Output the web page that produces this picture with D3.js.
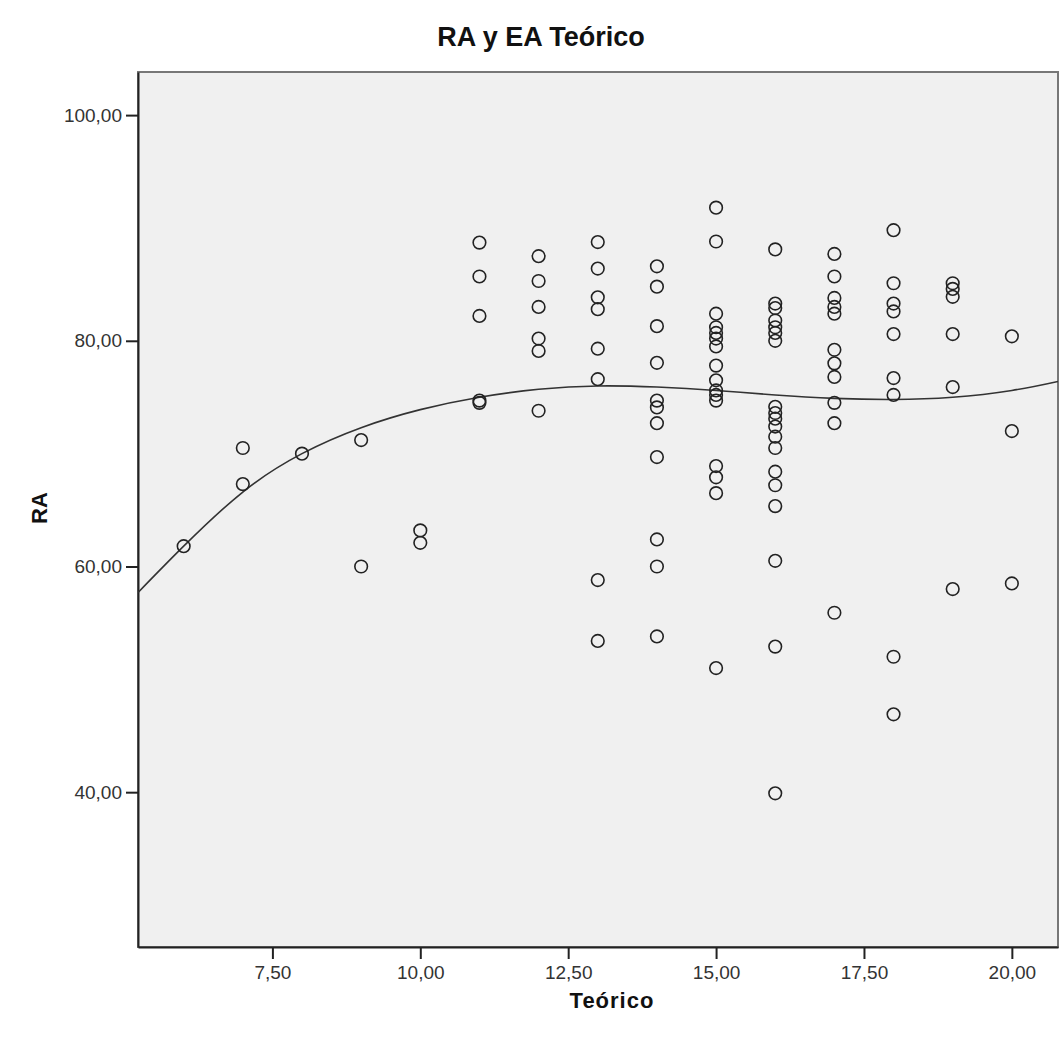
<!DOCTYPE html>
<html>
<head>
<meta charset="utf-8">
<script src="https://cdn.jsdelivr.net/npm/d3@7"></script>
<style>
  body { margin: 0; background: #fff; }
  text { font-family: Arial, "Liberation Sans", sans-serif; }
</style>
</head>
<body>
<div class="chart"></div>
<script>
// points: Teórico (x) and RA (y)
const teorico = [
    6,
    7, 7,
    8,
    9, 9,
    10, 10,
    11, 11, 11, 11, 11,
    12, 12, 12, 12, 12, 12,
    13, 13, 13, 13, 13, 13, 13, 13,
    14, 14, 14, 14, 14, 14, 14, 14, 14, 14, 14,
    15, 15, 15, 15, 15, 15, 15, 15, 15, 15, 15, 15, 15, 15, 15, 15,
    16, 16, 16, 16, 16, 16, 16, 16, 16, 16, 16, 16, 16, 16, 16, 16, 16, 16, 16,
    17, 17, 17, 17, 17, 17, 17, 17, 17, 17, 17,
    18, 18, 18, 18, 18, 18, 18, 18, 18,
    19, 19, 19, 19, 19, 19,
    20, 20, 20
]
const ra = [
    61.8,
    70.5, 67.3,
    70.0,
    71.2, 60.0,
    63.2, 62.1,
    88.7, 85.7, 82.2, 74.7, 74.5,
    87.5, 85.3, 83.0, 80.2, 79.1, 73.8,
    88.75, 86.4, 83.85, 82.8, 79.3, 76.6, 58.8, 53.4,
    86.6, 84.8, 81.3, 78.05, 74.7, 74.1, 72.7, 69.7, 62.4, 60.0, 53.8,
    91.8, 88.8, 82.4, 81.2, 80.7, 80.2, 79.5, 77.8, 76.5, 75.6, 75.2, 74.7, 68.9, 67.9, 66.5, 51.0,
    88.1, 83.3, 82.9, 81.8, 81.2, 80.7, 80.0, 74.15, 73.6, 73.1, 72.4, 71.5, 70.5, 68.4, 67.2, 65.35, 60.5, 52.9, 39.9,
    87.7, 85.7, 83.8, 83.0, 82.4, 79.2, 78.0, 76.8, 74.5, 72.7, 55.9,
    89.8, 85.1, 83.3, 82.6, 80.6, 76.7, 75.2, 52.0, 46.9,
    85.1, 84.6, 83.9, 80.6, 75.9, 58.0,
    80.4, 72.0, 58.5
]

// cubic fit line
const fitX = [5.23, 6, 7, 8, 9, 10, 11, 12, 13, 14, 15, 16, 17, 18, 19, 20, 20.78]
const fitY = [57.7, 61.8, 66.6, 70.0, 72.3, 73.9, 75.0, 75.7, 76.0, 75.9, 75.6, 75.2, 74.9, 74.8, 75.0, 75.6, 76.4]

const xTicks = [7.5, 10, 12.5, 15, 17.5, 20]
const yTicks = [40, 60, 80, 100]

const locale = d3.formatLocale({ decimal: ',', thousands: '.', grouping: [3], currency: ['', ''] })
const fmt = locale.format('.2f')

const margin = { top: 72, right: 3, bottom: 99, left: 138 }
const width = 1061 - margin.left - margin.right
const height = 1046 - margin.top - margin.bottom

const points = teorico.map((d, i) => ({ x: d, y: ra[i] }))
const fit = fitX.map((d, i) => ({ x: d, y: fitY[i] }))

// Scales.
const xScale = d3.scaleLinear()
    .domain([5.228, 20.78])
    .range([0, width])

const yScale = d3.scaleLinear()
    .domain([26.28, 103.82])
    .range([height, 0])

const root = d3.select('.chart')
  .append('svg')
  .attr('width', width + margin.left + margin.right)
  .attr('height', height + margin.top + margin.bottom)

root.append('text')
    .attr('x', 541)
    .attr('y', 46)
    .attr('text-anchor', 'middle')
    .style('font-size', '27px')
    .style('font-weight', 'bold')
    .style('fill', '#111')
    .text('RA y EA Teórico')

const svg = root.append('g')
    .attr('transform', `translate(${margin.left}, ${margin.top})`)

svg.append('defs').append('clipPath')
    .attr('id', 'plot-clip')
  .append('rect')
    .attr('width', width)
    .attr('height', height)

// Plot background.
svg.append('rect')
    .attr('width', width)
    .attr('height', height)
    .style('fill', '#f0f0f0')
    .style('stroke', '#777')
    .style('stroke-width', 2)

// Axes.
const xAxis = d3.axisBottom(xScale)
    .tickValues(xTicks)
    .tickSizeInner(12)
    .tickSizeOuter(0)
    .tickPadding(7)
    .tickFormat(fmt)

const yAxis = d3.axisLeft(yScale)
    .tickValues(yTicks)
    .tickSizeInner(12)
    .tickSizeOuter(0)
    .tickPadding(4)
    .tickFormat(fmt)

const gx = svg.append('g')
    .attr('transform', `translate(0, ${height})`)
    .call(xAxis)

const gy = svg.append('g')
    .call(yAxis)

for (const g of [gx, gy]) {
    g.select('.domain').style('stroke', '#222').style('stroke-width', 2)
    g.selectAll('.tick line').style('stroke', '#222').style('stroke-width', 2)
    g.selectAll('.tick text')
        .style('font-size', '19px')
        .style('fill', '#333')
        .style('font-family', 'Arial, "Liberation Sans", sans-serif')
}

// Fit line.
const line = d3.line()
    .x(d => xScale(d.x))
    .y(d => yScale(d.y))
    .curve(d3.curveNatural)

svg.append('path')
    .datum(fit)
    .attr('clip-path', 'url(#plot-clip)')
    .attr('d', line)
    .style('fill', 'none')
    .style('stroke', '#333')
    .style('stroke-width', 1.6)

// Points.
svg.selectAll('.dot')
    .data(points)
    .enter()
    .append('circle')
    .attr('class', 'dot')
    .attr('cx', d => xScale(d.x))
    .attr('cy', d => yScale(d.y))
    .attr('r', 6.3)
    .style('fill', 'none')
    .style('stroke', '#222')
    .style('stroke-width', 1.6)

// Axis titles.
root.append('text')
    .attr('transform', 'translate(47, 508) rotate(-90)')
    .attr('text-anchor', 'middle')
    .style('font-size', '22px')
    .style('font-weight', 'bold')
    .style('fill', '#111')
    .text('RA')

root.append('text')
    .attr('x', 612)
    .attr('y', 1008)
    .attr('text-anchor', 'middle')
    .style('font-size', '22px')
    .style('font-weight', 'bold')
    .style('letter-spacing', '1px')
    .style('fill', '#111')
    .text('Teórico')
</script>
</body>
</html>
